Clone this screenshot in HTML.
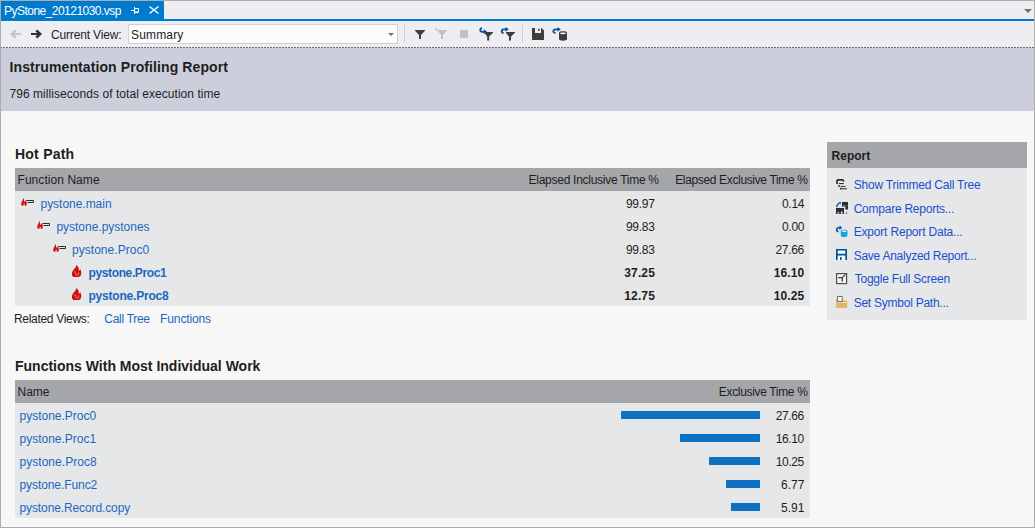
<!DOCTYPE html>
<html><head><meta charset="utf-8"><style>
html,body{margin:0;padding:0;}
body{width:1035px;height:528px;overflow:hidden;position:relative;background:#f7f7f7;font-family:"Liberation Sans",sans-serif;color:#1e1e1e;}
.b{position:absolute;}
.t{position:absolute;white-space:nowrap;line-height:20px;font-family:"Liberation Sans",sans-serif;}
svg{position:absolute;overflow:visible;}

</style></head><body>
<div class=b style="left:0;top:0;width:1035px;height:528px;background:#acacac"></div>
<div class=b style="left:1px;top:1px;width:1033px;height:526px;background:#f7f7f7"></div>
<div class=b style="left:1px;top:1px;width:1033px;height:18px;background:#eeeef2"></div>
<div class=b style="left:1px;top:1px;width:163px;height:18px;background:#007acc"></div>
<div class=b style="left:1px;top:19px;width:1033px;height:2px;background:#007acc"></div>
<div class=b style="left:1px;top:21px;width:1033px;height:26px;background:#eeeef2"></div>
<div class=b style="left:1px;top:47px;width:1033px;height:1px;background:repeating-linear-gradient(90deg,#6e6e6e 0 2px,#eeeef2 2px 3px);background-position:-1px 0"></div>
<div class=b style="left:1px;top:48px;width:1033px;height:63px;background:#cccedb"></div>
<div class=b style="left:128px;top:24px;width:268px;height:18px;background:#fcfcfc;border:1px solid #cfd1dc"></div>
<div class=b style="left:404px;top:25px;width:1px;height:18px;background:#cccedb"></div>
<div class=b style="left:522px;top:25px;width:1px;height:18px;background:#cccedb"></div>
<div class=b style="left:15px;top:168px;width:795px;height:23px;background:#a5a6aa"></div>
<div class=b style="left:15px;top:191px;width:795px;height:115px;background:#e6e7e8"></div>
<div class=b style="left:15px;top:380px;width:795px;height:23px;background:#a5a6aa"></div>
<div class=b style="left:15px;top:403px;width:795px;height:115px;background:#e6e7e8"></div>
<div class=b style="left:827px;top:142px;width:200px;height:26px;background:#a5a6aa"></div>
<div class=b style="left:827px;top:168px;width:200px;height:152px;background:#e6e7e8"></div>
<div class=b style="left:621px;top:411px;width:139px;height:8px;background:#0e70c0"></div>
<div class=b style="left:680px;top:434px;width:80px;height:8px;background:#0e70c0"></div>
<div class=b style="left:709px;top:457px;width:51px;height:8px;background:#0e70c0"></div>
<div class=b style="left:726px;top:480px;width:34px;height:8px;background:#0e70c0"></div>
<div class=b style="left:731px;top:503px;width:29px;height:8px;background:#0e70c0"></div>

<svg style="left:0;top:0" width="1035" height="528" viewBox="0 0 1035 528">
<!-- tab pin -->
<g fill="none" stroke="#fff" stroke-width="1">
<path d="M131 10.5H134.5M134.5 7V14M134.5 8.5H138.5V12H134.5"/>
<path d="M134.5 12.5H138.5" stroke-width="1.2"/>
</g>
<path d="M149.5 6.5L158.5 13.5M158.5 6.5L149.5 13.5" stroke="#fff" stroke-width="1.4" fill="none"/>
<!-- back / forward -->
<g fill="none" stroke="#c5c5c5" stroke-width="2"><path d="M11.5 34H21"/><path d="M15.7 30.3L11.8 34L15.7 37.7" stroke-width="2.5"/></g>
<g fill="none" stroke="#2f2f2f" stroke-width="2"><path d="M31 34H40.5"/><path d="M36.3 30.3L40.2 34L36.3 37.7" stroke-width="2.5"/></g>
<!-- tab overflow arrow -->
<path d="M1024 9H1032L1028 13Z" fill="#717171"/>
<!-- dropdown arrow -->
<path d="M388 33H394L391 36Z" fill="#717171"/>
<!-- funnel 1 -->
<path d="M415 30H425V30.8L421 35V39H419V35L415 30.8Z" fill="#3d3d3d"/>
<!-- funnel 2 disabled -->
<path d="M437.5 30H447V30.8L443 35V39H441V35L437.5 30.8Z" fill="#c2c2c2"/>
<path d="M435 27.5L438.5 29.5L435 30.8Z" fill="#c8c8c8"/>
<!-- stop square -->
<rect x="460" y="30" width="8" height="8" fill="#c2c2c2"/>
<!-- funnel with arrow 4 -->
<path d="M484.5 32H493V32.8L489.2 36.5V40.6H487.2V36.5L484.5 33Z" fill="#3d3d3d"/>
<path d="M482 28.2C479.8 28.2 479.6 31.8 482.2 31.8H484.5" fill="none" stroke="#00539c" stroke-width="1.8"/>
<path d="M483.8 29L487 31.8L483.8 34.2Z" fill="#00539c"/>
<!-- funnel with arrow 5 -->
<path d="M506 32H515V32.8L511 36.5V40.6H509V36.5L506 33Z" fill="#3d3d3d"/>
<path d="M503.6 33C501 33 501 29.3 503.8 29.3H506" fill="none" stroke="#00539c" stroke-width="1.8"/>
<path d="M505.5 27L508.8 29.3L505.5 31.8Z" fill="#00539c"/>
<!-- save -->
<path d="M532 28H535V33H541V28H541.5L544 30.5V40H532Z" fill="#3d3d3d"/>
<rect x="538" y="28.8" width="1.6" height="2" fill="#3d3d3d"/>
<!-- db refresh -->
<path d="M559 32.5C559 30.8 567 30.8 567 32.5V39.3C567 41.2 559 41.2 559 39.3Z" fill="#3d3d3d"/>
<ellipse cx="563" cy="33.3" rx="3" ry="0.9" fill="#fff"/>
<path d="M555.5 33C552.6 33 552.6 29.3 555.6 29.3H558" fill="none" stroke="#00539c" stroke-width="1.8"/>
<path d="M557.5 27L560.8 29.3L557.5 31.8Z" fill="#00539c"/>

<!-- hot path small icons -->
<g id="sm">
<path d="M23.5 198C24.5 199.5 23.4 200.5 24.6 202C25.1 201.2 25.4 200.6 25.4 200.1C26.7 201.5 27.1 203 26.8 204.5C26.5 205.6 25.7 206.1 24.9 206.1C25.1 205.1 24.5 204 24 203.4C23.8 204.5 23.5 205.6 22.6 206.1C21.6 205.7 21 204.4 21.3 203C21.6 201.5 22.8 200.5 22.8 199.5C22.9 199 23.2 198.5 23.5 198Z" fill="#d41515"/>
<path d="M26.5 200.5H33.5V202.5H27.5" fill="none" stroke="#2a2a2a" stroke-width="1"/>
</g>
<use href="#sm" x="16" y="23"/>
<use href="#sm" x="32" y="46"/>
<!-- big flames -->
<g id="bf">
<path d="M76 265C78.6 266.4 79.2 268.5 78.7 270.7C79.4 270.4 80 269.9 80.3 269.2C81.5 271 81.7 273.8 80.7 275.5C80 276.6 78.9 277.1 77.6 277.1H74.6C73.1 277.1 72.1 276.1 71.9 274.5C71.7 272.7 72.5 271.1 73.5 269.8C74.6 268.5 76.4 267.4 76 265Z" fill="#cf1010"/>
<path d="M74.6 271.2C75.2 272.6 76 273.8 76.9 275.6" fill="none" stroke="#eab0b0" stroke-width="0.8"/>
<path d="M78.7 272.4C78.6 273.6 78.2 274.6 77.9 275.3" fill="none" stroke="#eab0b0" stroke-width="0.7"/>
</g>
<use href="#bf" x="0" y="23"/>

<!-- report icons -->
<!-- show trimmed call tree -->
<g fill="#2d2d2d">
<path d="M836.2 182.5V180.6Q836.2 178.9 837.9 178.9H842.6Q844.2 178.9 844.2 180.6V181.8H842.6V180.8H838V182.5Z"/>
<rect x="836.3" y="182.4" width="1.7" height="1.7"/>
<rect x="839" y="183" width="4.8" height="1.1"/>
<rect x="838.2" y="185.2" width="1.7" height="1.7"/>
<rect x="840.7" y="185.9" width="4.8" height="1"/>
<rect x="840" y="187.8" width="1.7" height="1.7"/>
<rect x="842" y="188.3" width="5" height="1"/>
</g>
<!-- compare reports -->
<path d="M837 207.3V205.2L839.3 203" fill="none" stroke="#0e5cc0" stroke-width="1.5"/>
<path d="M838.3 202H840.8V204.6Z" fill="#0e5cc0"/>
<path d="M842 202H848V204.2L845.8 206.8H842Z" fill="#2d2d2d"/>
<path d="M843 206.2L844 204.8L845 206.2Z" fill="#e6e7e8"/>
<path d="M845.3 207.5L848 204.6V209.5H845.3Z" fill="#2d2d2d"/>
<path d="M836 208H844V214H836Z" fill="#2d2d2d"/>
<path d="M837 213.4L838.3 211.6L839.6 213.4ZM840.3 213.4L841.8 210.8L843.2 213.4Z" fill="#e6e7e8"/>
<circle cx="846.4" cy="213.1" r="0.9" fill="#2c6fd0"/>
<!-- export report data -->
<path d="M840.8 231.2C840.8 229.4 847.4 229.4 847.4 231.2V235.8C847.4 237.7 840.8 237.7 840.8 235.8Z" fill="#1ba1e2"/>
<ellipse cx="844.1" cy="231.2" rx="2.5" ry="0.8" fill="#fff"/>
<path d="M838.5 231.5C836 231.5 836 227.8 838.5 227.8H840" fill="none" stroke="#00539c" stroke-width="1.5"/>
<path d="M839.5 225.6L842.2 227.8L839.5 230Z" fill="#00539c"/>
<!-- save analyzed -->
<rect x="837.6" y="250.5" width="7.8" height="9.5" fill="#fafafa"/>
<path d="M836 249H847V260H845.3V255.4H837.7V259.3L837 260H836ZM837.7 250.6V253.7H845.3V250.6Z" fill="#00539c" fill-rule="evenodd"/>
<rect x="840" y="257" width="1.6" height="3" fill="#00539c"/>
<!-- toggle full screen -->
<rect x="836.6" y="273.6" width="10" height="10" fill="#f2f2f2" stroke="#505050" stroke-width="1.2"/>
<path d="M838.2 277.6H842.3V281.6" fill="none" stroke="#3a3a3a" stroke-width="1.3"/>
<path d="M842.3 277.6L845.6 274.4" stroke="#3a3a3a" stroke-width="1.1"/>
<!-- set symbol path -->
<path d="M836 299.5Q836 298.5 837 298.5H843V300.5H846.5Q847.2 300.5 847.2 301.3V307Q847.2 308 846.2 308H837Q836 308 836 307Z" fill="#e0b46a"/>
<path d="M837.6 302.6H847.2" stroke="#f3e6cc" stroke-width="0.8"/>
<rect x="837.6" y="296.5" width="4.5" height="5" fill="#fdfdfd" stroke="#666" stroke-width="0.9"/>
</svg>

<span class=t style='left:4.00px;top:1px;font-size:12px;color:#ffffff;letter-spacing:-0.526px;'>PyStone_20121030.vsp</span>
<span class=t style='left:51.00px;top:25px;font-size:12px;letter-spacing:-0.167px;'>Current View:</span>
<span class=t style='left:131.00px;top:25px;font-size:12px;letter-spacing:0.167px;'>Summary</span>
<span class=t style='left:9.50px;top:57px;font-size:14px;font-weight:700;letter-spacing:0.097px;'>Instrumentation Profiling Report</span>
<span class=t style='left:9.50px;top:84px;font-size:12px;letter-spacing:0.051px;'>796 milliseconds of total execution time</span>
<span class=t style='left:15.00px;top:144px;font-size:14px;font-weight:700;letter-spacing:0.229px;'>Hot Path</span>
<span class=t style='left:17.50px;top:170px;font-size:12px;letter-spacing:0.058px;'>Function Name</span>
<span class=t style='left:528.60px;top:170px;font-size:12px;letter-spacing:-0.274px;'>Elapsed Inclusive Time %</span>
<span class=t style='left:675.20px;top:170px;font-size:12px;letter-spacing:-0.348px;'>Elapsed Exclusive Time %</span>
<span class=t style='left:40.50px;top:194px;font-size:12px;color:#1a67c2;letter-spacing:-0.027px;'>pystone.main</span>
<span class=t style='left:626.00px;top:194px;font-size:12px;letter-spacing:-0.300px;'>99.97</span>
<span class=t style='left:781.90px;top:194px;font-size:12px;letter-spacing:-0.233px;'>0.14</span>
<span class=t style='left:56.40px;top:217px;font-size:12px;color:#1a67c2;letter-spacing:-0.013px;'>pystone.pystones</span>
<span class=t style='left:626.00px;top:217px;font-size:12px;letter-spacing:-0.300px;'>99.83</span>
<span class=t style='left:781.90px;top:217px;font-size:12px;letter-spacing:-0.233px;'>0.00</span>
<span class=t style='left:72.00px;top:240px;font-size:12px;color:#1a67c2;letter-spacing:0.033px;'>pystone.Proc0</span>
<span class=t style='left:626.00px;top:240px;font-size:12px;letter-spacing:-0.300px;'>99.83</span>
<span class=t style='left:775.40px;top:240px;font-size:12px;letter-spacing:-0.300px;'>27.66</span>
<span class=t style='left:88.50px;top:263px;font-size:12px;font-weight:700;color:#1a67c2;letter-spacing:-0.375px;'>pystone.Proc1</span>
<span class=t style='left:624.30px;top:263px;font-size:12px;font-weight:700;letter-spacing:0.125px;'>37.25</span>
<span class=t style='left:773.70px;top:263px;font-size:12px;font-weight:700;letter-spacing:0.125px;'>16.10</span>
<span class=t style='left:88.50px;top:286px;font-size:12px;font-weight:700;color:#1a67c2;letter-spacing:-0.208px;'>pystone.Proc8</span>
<span class=t style='left:624.30px;top:286px;font-size:12px;font-weight:700;letter-spacing:0.125px;'>12.75</span>
<span class=t style='left:773.70px;top:286px;font-size:12px;font-weight:700;letter-spacing:0.125px;'>10.25</span>
<span class=t style='left:14.00px;top:309px;font-size:12px;letter-spacing:-0.308px;'>Related Views:</span>
<span class=t style='left:104.30px;top:309px;font-size:12px;color:#1a67c2;letter-spacing:-0.287px;'>Call Tree</span>
<span class=t style='left:160.10px;top:309px;font-size:12px;color:#1a67c2;letter-spacing:-0.125px;'>Functions</span>
<span class=t style='left:15.00px;top:356px;font-size:14px;font-weight:700;'>Functions With Most Individual Work</span>
<span class=t style='left:17.50px;top:382px;font-size:12px;'>Name</span>
<span class=t style='left:718.80px;top:382px;font-size:12px;letter-spacing:-0.333px;'>Exclusive Time %</span>
<span class=t style='left:19.50px;top:406px;font-size:12px;color:#1a67c2;'>pystone.Proc0</span>
<span class=t style='left:775.70px;top:406px;font-size:12px;letter-spacing:-0.375px;'>27.66</span>
<span class=t style='left:19.50px;top:429px;font-size:12px;color:#1a67c2;'>pystone.Proc1</span>
<span class=t style='left:775.70px;top:429px;font-size:12px;letter-spacing:-0.375px;'>16.10</span>
<span class=t style='left:19.50px;top:452px;font-size:12px;color:#1a67c2;letter-spacing:0.033px;'>pystone.Proc8</span>
<span class=t style='left:775.70px;top:452px;font-size:12px;letter-spacing:-0.375px;'>10.25</span>
<span class=t style='left:19.50px;top:475px;font-size:12px;color:#1a67c2;letter-spacing:-0.083px;'>pystone.Func2</span>
<span class=t style='left:780.90px;top:475px;font-size:12px;letter-spacing:0.100px;'>6.77</span>
<span class=t style='left:19.50px;top:498px;font-size:12px;color:#1a67c2;letter-spacing:-0.111px;'>pystone.Record.copy</span>
<span class=t style='left:780.90px;top:498px;font-size:12px;letter-spacing:0.100px;'>5.91</span>
<span class=t style='left:831.60px;top:146px;font-size:12px;font-weight:700;'>Report</span>
<span class=t style='left:853.70px;top:175px;font-size:12px;color:#1b4fd0;letter-spacing:-0.214px;'>Show Trimmed Call Tree</span>
<span class=t style='left:853.70px;top:199px;font-size:12px;color:#1b4fd0;letter-spacing:-0.241px;'>Compare Reports...</span>
<span class=t style='left:853.70px;top:222px;font-size:12px;color:#1b4fd0;letter-spacing:-0.185px;'>Export Report Data...</span>
<span class=t style='left:853.70px;top:246px;font-size:12px;color:#1b4fd0;letter-spacing:-0.259px;'>Save Analyzed Report...</span>
<span class=t style='left:854.70px;top:269px;font-size:12px;color:#1b4fd0;letter-spacing:-0.229px;'>Toggle Full Screen</span>
<span class=t style='left:853.70px;top:293px;font-size:12px;color:#1b4fd0;letter-spacing:-0.247px;'>Set Symbol Path...</span>
</body></html>
